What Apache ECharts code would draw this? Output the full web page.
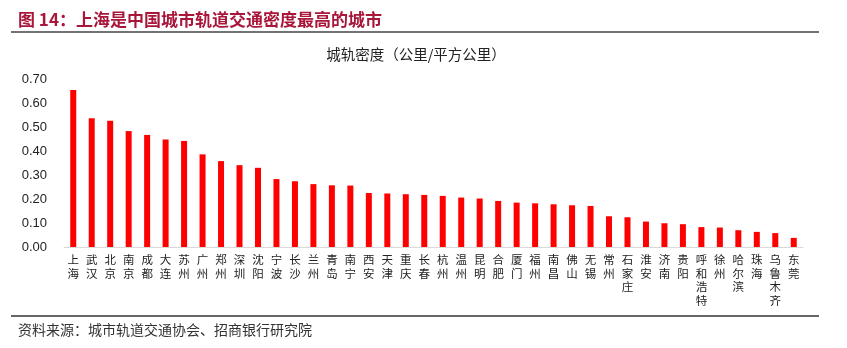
<!DOCTYPE html>
<html>
<head>
<meta charset="utf-8">
<script src="https://cdn.jsdelivr.net/npm/echarts@6/dist/echarts.min.js"></script>
<style>
  html, body { margin: 0; padding: 0; background: #fff; }
  #chart { width: 847px; height: 348px; }
</style>
</head>
<body>
<div id="chart"></div>
<script>
// City rail transit density (km of line per km² of city area)
const cities = ['上海', '武汉', '北京', '南京', '成都', '大连', '苏州', '广州', '郑州', '深圳',
  '沈阳', '宁波', '长沙', '兰州', '青岛', '南宁', '西安', '天津', '重庆', '长春',
  '杭州', '温州', '昆明', '合肥', '厦门', '福州', '南昌', '佛山', '无锡', '常州',
  '石家庄', '淮安', '济南', '贵阳', '呼和浩特', '徐州', '哈尔滨', '珠海', '乌鲁木齐', '东莞'];
const density = [0.654, 0.536, 0.526, 0.483, 0.467, 0.448, 0.442, 0.386, 0.358, 0.341,
  0.330, 0.283, 0.274, 0.262, 0.257, 0.256, 0.225, 0.223, 0.220, 0.217,
  0.213, 0.206, 0.202, 0.192, 0.185, 0.182, 0.178, 0.174, 0.171, 0.128,
  0.124, 0.106, 0.099, 0.095, 0.083, 0.081, 0.070, 0.063, 0.058, 0.038];
const yTicks = ['0.00', '0.10', '0.20', '0.30', '0.40', '0.50', '0.60', '0.70'];

const titleText = '图 14：上海是中国城市轨道交通密度最高的城市';
const subTitle = '城轨密度（公里/平方公里）';
const sourceText = '资料来源：城市轨道交通协会、招商银行研究院';

const cjk = '"Noto Sans CJK SC", "Noto Sans", sans-serif';
const chart = echarts.init(document.getElementById('chart'), null, { renderer: 'canvas' });

chart.setOption({
  backgroundColor: '#fff',
  animation: false,
  textStyle: { fontFamily: cjk },
  title: [
    {
      text: titleText, left: 13, top: 6,
      textStyle: { color: '#a8163a', fontSize: 17, fontWeight: 'bold', fontFamily: cjk }
    },
    {
      text: subTitle, left: 411, top: 42, textAlign: 'center',
      textStyle: { color: '#222', fontSize: 14.5, fontWeight: 'normal', fontFamily: cjk }
    },
    {
      text: sourceText, left: 13, top: 318,
      textStyle: { color: '#333', fontSize: 14, fontWeight: 'normal', fontFamily: cjk }
    }
  ],
  graphic: [
    { type: 'line', shape: { x1: 11, y1: 32, x2: 819, y2: 32 }, style: { stroke: '#444', lineWidth: 1.5 } },
    { type: 'line', shape: { x1: 11, y1: 316, x2: 819, y2: 316 }, style: { stroke: '#666', lineWidth: 2 } }
  ],
  grid: { left: 64, right: 44, top: 79, bottom: 101, containLabel: false },
  xAxis: {
    type: 'category',
    data: cities,
    axisLine: { lineStyle: { color: '#d9d9d9', width: 1 } },
    axisTick: { show: false },
    axisLabel: {
      interval: 0, margin: 6, color: '#222', fontSize: 11.5, lineHeight: 13.5,
      formatter: v => v.split('').join('\n')
    }
  },
  yAxis: {
    type: 'value', min: 0, max: 0.7, interval: 0.1,
    splitLine: { show: false },
    axisLine: { show: false },
    axisTick: { show: false },
    axisLabel: {
      color: '#222', fontSize: 13, margin: 17,
      fontFamily: '"Liberation Sans", Arial, sans-serif',
      formatter: v => yTicks[Math.round(v * 10)]
    }
  },
  series: [{
    type: 'bar',
    data: density,
    barWidth: 6,
    itemStyle: { color: '#ff0000' }
  }]
});
</script>
</body>
</html>
